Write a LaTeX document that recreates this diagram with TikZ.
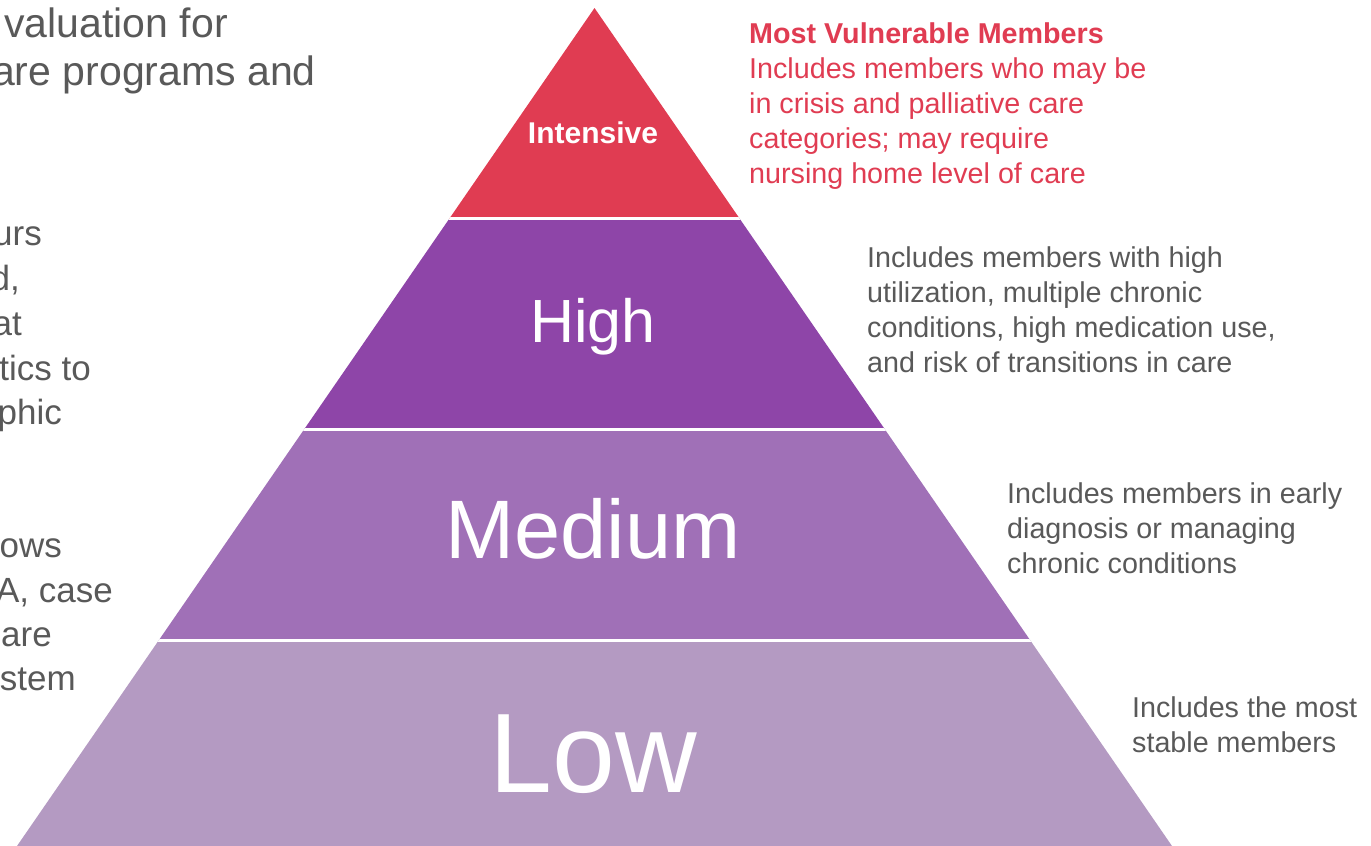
\documentclass[tikz,border=0pt]{standalone}
\usepackage{fontspec}
\setmainfont{Liberation Sans}
\definecolor{tierRed}{RGB}{224,60,82}
\definecolor{tierHigh}{RGB}{142,69,168}
\definecolor{tierMed}{RGB}{160,112,183}
\definecolor{tierLow}{RGB}{180,154,194}
\definecolor{bodyGray}{RGB}{89,89,89}
\begin{document}
\begin{tikzpicture}[x=1pt,y=-1pt,
  % multi-line blocks are placed by the baseline of their last line
  txt/.style={inner sep=0pt,anchor=base west,align=left},
  lefttxt/.style={inner sep=0pt,anchor=base east,text=bodyGray},
  descfont/.style={font=\fontsize{28.7}{35}\selectfont},
  desc/.style={txt,descfont,text=bodyGray},
  tier/.style={inner sep=0pt,anchor=base,text=white},
  gap/.style={white,line width=3pt}]
\useasboundingbox (0,0) rectangle (1371,846);
\clip (0,0) rectangle (1371,846);

% pyramid corners
\coordinate (apex) at (594.5,8);
\coordinate (bl) at (17,846);
\coordinate (br) at (1172,846);

% tier bands, clipped to the triangle
\begin{scope}
  \clip (apex) -- (bl) -- (br) -- cycle;
  \fill[tierRed]  (0,0)   rectangle (1371,219);
  \fill[tierHigh] (0,219) rectangle (1371,429.5);
  \fill[tierMed]  (0,429.5) rectangle (1371,640);
  \fill[tierLow]  (0,640) rectangle (1371,846);
  \draw[gap] (0,218.5) -- (1371,218.5);
  \draw[gap] (0,429.5) -- (1371,429.5);
  \draw[gap] (0,640) -- (1371,640);
\end{scope}

% tier labels
\node[tier,font=\bfseries\fontsize{30}{36}\selectfont] (intensive) at (593,143) {Intensive};
\node[tier,font=\fontsize{61}{70}\selectfont] (high) at (593,342) {High};
\node[tier,font=\fontsize{83}{96}\selectfont] (medium) at (593,558) {Medium};
\node[tier,font=\fontsize{113}{130}\selectfont] (low) at (593,792) {Low};

% tier descriptions
\node[txt,descfont,text=tierRed] (dIntensive) at (749,183)
  {\textbf{Most Vulnerable Members}\\Includes members who may be\\in crisis and palliative care\\categories; may require\\nursing home level of care};
\node[desc] (dHigh) at (867,372)
  {Includes members with high\\utilization, multiple chronic\\conditions, high medication use,\\and risk of transitions in care};
\node[desc] (dMed) at (1007,573)
  {Includes members in early\\diagnosis or managing\\chronic conditions};
\node[desc] (dLow) at (1132,752)
  {Includes the most\\stable members};

% left-hand text running in from the page edge
\begin{scope}[font=\fontsize{41}{48}\selectfont]
  \node[lefttxt] (l1) at (228,37) {valuation for};
  \node[lefttxt] (l2) at (316,85) {care programs and};
\end{scope}
\begin{scope}[font=\fontsize{35}{45}\selectfont]
  \node[lefttxt] (m1) at (42,245) {ours};
  \node[lefttxt] (m2) at (20,290) {ed,};
  \node[lefttxt] (m3) at (22,335) {hat};
  \node[lefttxt] (m4) at (91,380) {istics to};
  \node[lefttxt] (m5) at (62,424) {aphic};
  \node[lefttxt] (n1) at (62,557) {lows};
  \node[lefttxt] (n2) at (113,602) {MA, case};
  \node[lefttxt] (n3) at (52,646) {care};
  \node[lefttxt] (n4) at (76,690) {system};
\end{scope}
\end{tikzpicture}
\end{document}
